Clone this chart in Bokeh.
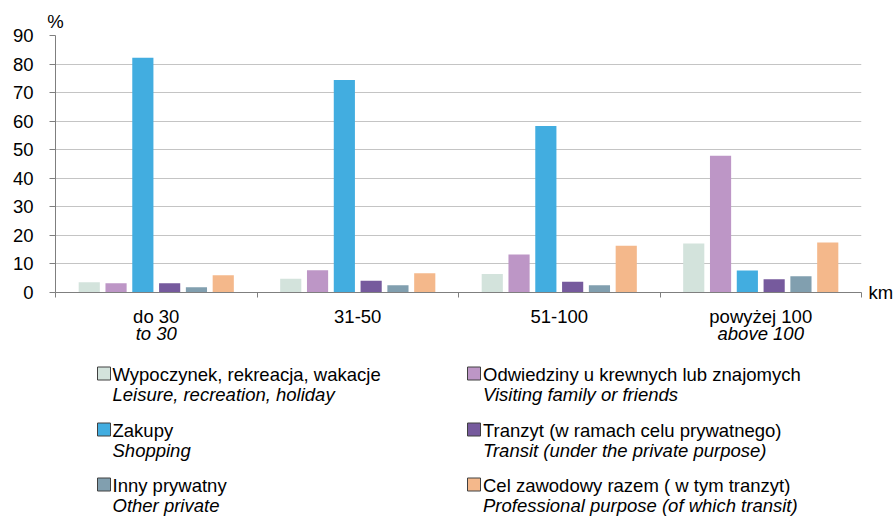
from bokeh.plotting import figure
from bokeh.models import ColumnDataSource, Range1d, LinearAxis, FixedTicker
from bokeh.transform import dodge
from bokeh.layouts import column
from bokeh.core.properties import value
from bokeh.embed import file_html
from bokeh.resources import INLINE

# ---------------- data ----------------
categories = ["do 30", "31-50", "51-100", "powyżej 100"]
categories_en = ["to 30", "", "", "above 100"]

series_pl = [
    "Wypoczynek, rekreacja, wakacje",
    "Odwiedziny u krewnych lub znajomych",
    "Zakupy",
    "Tranzyt (w ramach celu prywatnego)",
    "Inny prywatny",
    "Cel zawodowy razem ( w tym tranzyt)",
]
series_en = [
    "Leisure, recreation, holiday",
    "Visiting family or friends",
    "Shopping",
    "Transit (under the private purpose)",
    "Other private",
    "Professional purpose (of which transit)",
]
colors = ["#d3e3dc", "#bd96c6", "#42ade0", "#765a9d", "#819faf", "#f4b88b"]

leisure = [3.6, 4.8, 6.5, 17.2]
visiting = [3.2, 7.8, 13.3, 47.9]
shopping = [82.2, 74.4, 58.3, 7.7]
transit = [3.2, 4.1, 3.8, 4.6]
other = [1.8, 2.5, 2.5, 5.7]
professional = [6.0, 6.7, 16.4, 17.5]

y_ticks = [0, 10, 20, 30, 40, 50, 60, 70, 80, 90]
y_unit = "%"
x_unit = "km"

FONT = "Liberation Sans"
FS = "18.5px"
AXIS_COL = "#7f7f7f"
GRID_COL = "#c4c4c4"
TXT = "#000000"

series_values = [leisure, visiting, shopping, transit, other, professional]
keys = ["s%d" % i for i in range(len(series_values))]
centers = [i + 0.5 for i in range(len(categories))]
bounds = [float(i) for i in range(len(categories) + 1)]
data = {"cat": categories, "xc": centers}
for k, v in zip(keys, series_values):
    data[k] = v
src = ColumnDataSource(data)

# ---------------- layout constants ----------------
LEFT, FW, RIGHT = 55, 806, 31
TOP, FH = 35, 257
MAIN_H = 362
TOTAL_H = 518

# ---------------- main chart ----------------
p = figure(x_range=Range1d(0, len(categories)), y_range=Range1d(0, 90),
           frame_width=FW, frame_height=FH,
           min_border_left=LEFT, min_border_right=RIGHT,
           min_border_top=TOP, min_border_bottom=MAIN_H - TOP - FH,
           x_axis_location=None, output_backend="svg",
           toolbar_location=None, tools="")
p.outline_line_color = None
p.background_fill_color = "white"
p.border_fill_color = "white"

n = len(series_values)
step = 0.133
bar_w = 0.105
for i, (k, c) in enumerate(zip(keys, colors)):
    off = (i - (n - 1) / 2.0) * step
    p.vbar(x=dodge("xc", off), top=k, width=bar_w,
           bottom=0, source=src, fill_color=c, line_color=None)

# y axis
ya = p.yaxis[0]
ya.ticker = FixedTicker(ticks=y_ticks)
ya.axis_line_color = AXIS_COL
ya.major_tick_line_color = AXIS_COL
ya.major_tick_out = 6
ya.major_tick_in = 0
ya.minor_tick_line_color = None
ya.major_label_standoff = 16
ya.major_label_text_font = FONT
ya.major_label_text_font_size = FS
ya.major_label_text_color = TXT

p.xgrid.visible = False
p.ygrid.ticker = FixedTicker(ticks=y_ticks)
p.ygrid.grid_line_color = GRID_COL
p.ygrid.grid_line_width = 1

# x axis: Polish labels centred on categories, ticks at category boundaries
xa = LinearAxis(ticker=FixedTicker(ticks=centers, minor_ticks=bounds),
                major_label_overrides={c: t for c, t in zip(centers, categories)},
                major_tick_line_color=None, major_tick_out=0, major_tick_in=0,
                minor_tick_out=5, minor_tick_in=0,
                minor_tick_line_color=AXIS_COL,
                axis_line_color=AXIS_COL,
                major_label_standoff=8,
                major_label_text_font=FONT,
                major_label_text_font_size=FS,
                major_label_text_color=TXT)
p.add_layout(xa, "below")

# second line of category labels (English, italic)
xa_en = LinearAxis(ticker=FixedTicker(ticks=centers),
                   major_label_overrides={c: t for c, t in zip(centers, categories_en)},
                   axis_line_color=None, major_tick_line_color=None,
                   minor_tick_line_color=None, major_tick_out=0, major_tick_in=0,
                   minor_tick_out=0, minor_tick_in=0,
                   major_label_standoff=-7,
                   major_label_text_font=FONT,
                   major_label_text_font_size=FS,
                   major_label_text_font_style="italic",
                   major_label_text_color=TXT)
p.add_layout(xa_en, "below")

# unit "%" above the y axis
pct = LinearAxis(ticker=FixedTicker(ticks=[0]),
                 major_label_overrides={0: y_unit},
                 axis_line_color=None, major_tick_line_color=None,
                 minor_tick_line_color=None, major_tick_out=0, major_tick_in=0,
                 minor_tick_out=0, minor_tick_in=0,
                 major_label_standoff=4,
                 major_label_text_font=FONT, major_label_text_font_size=FS,
                 major_label_text_color=TXT)
p.add_layout(pct, "above")

# unit "km" at the right end of the x axis
km = LinearAxis(ticker=FixedTicker(ticks=[0]),
                major_label_overrides={0: x_unit},
                axis_line_color=None, major_tick_line_color=None,
                minor_tick_line_color=None, major_tick_out=0, major_tick_in=0,
                minor_tick_out=0, minor_tick_in=0,
                major_label_standoff=7,
                major_label_text_font=FONT, major_label_text_font_size=FS,
                major_label_text_color=TXT)
p.add_layout(km, "right")

# ---------------- legend (separate panel, page-pixel coordinates) ----------------
LH = TOTAL_H - MAIN_H
lg = figure(frame_width=FW, frame_height=LH,
            x_range=Range1d(LEFT, LEFT + FW), y_range=Range1d(TOTAL_H, MAIN_H),
            min_border_left=LEFT, min_border_right=RIGHT,
            min_border_top=0, min_border_bottom=0,
            x_axis_location=None, y_axis_location=None,
            output_backend="svg", toolbar_location=None, tools="")
lg.grid.visible = False
lg.outline_line_color = None
lg.background_fill_color = "white"
lg.border_fill_color = "white"

col_sq = [103.5, 473.5]
col_tx = [112.0, 482.5]
row_base = [380.0, 436.0, 491.0]
en_gap = 20.0
text_shift = 6.0   # renderer places alphabetic baseline slightly low

sq_x, sq_y, tx_x, base_y, en_y = [], [], [], [], []
for i in range(len(series_pl)):
    cidx, ridx = i % 2, i // 2
    sq_x.append(col_sq[cidx])
    sq_y.append(row_base[ridx] - 7)
    tx_x.append(col_tx[cidx])
    base_y.append(row_base[ridx] - text_shift)
    en_y.append(row_base[ridx] + en_gap - text_shift)

lg.scatter(x=sq_x, y=sq_y, marker="square", size=13, fill_color=colors,
           line_color="#404040", line_width=1)
lg.text(x=tx_x, y=base_y, text=series_pl, text_baseline="alphabetic",
        text_align="left", text_font=value(FONT), text_font_size=value(FS),
        text_color=TXT)
lg.text(x=tx_x, y=en_y, text=series_en, text_baseline="alphabetic",
        text_align="left", text_font=value(FONT), text_font_size=value(FS),
        text_font_style=value("italic"), text_color=TXT)

layout = column(p, lg, spacing=0)
open("out.html", "w").write(file_html(layout, INLINE))
